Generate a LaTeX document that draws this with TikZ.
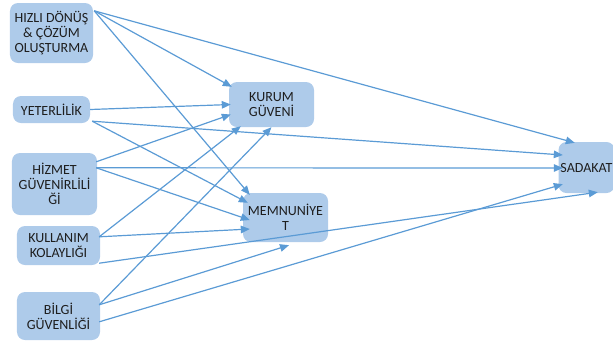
\documentclass[tikz,border=0pt]{standalone}
\usepackage{fontspec}
\setmainfont{Carlito}
\usetikzlibrary{arrows.meta}
\definecolor{boxfill}{RGB}{174,203,234}
\definecolor{linkblue}{RGB}{91,155,213}
\definecolor{boxtext}{RGB}{30,30,30}
\tikzset{
  box/.style={fill=boxfill, rounded corners=8bp, inner sep=0pt, align=center,
    text=boxtext, font=\fontsize{14bp}{15bp}\selectfont},
  link/.style={draw=linkblue, line width=1.2bp,
    -{Triangle[length=9bp,width=7.5bp]}}
}
\begin{document}
\begin{tikzpicture}[x=1bp, y=-1bp]
\useasboundingbox (0,0) rectangle (613,343);
\clip (0,0) rectangle (613,343);

% factor boxes on the left
\node[box, minimum width=83bp, minimum height=60bp] (hiz) at (51.5,33)
  {HIZLI DÖNÜŞ\\\& ÇÖZÜM\\OLUŞTURMA};
\node[box, minimum width=77bp, minimum height=27bp] (yet) at (51.5,109.5)
  {YETERLİLİK};
\node[box, minimum width=85bp, minimum height=62bp] (hzm) at (54.5,184)
  {HİZMET\\GÜVENİRLİLİ\\Ğİ};
\node[box, minimum width=83bp, minimum height=39bp] (kul) at (58.5,245.5)
  {KULLANIM\\KOLAYLIĞI};
\node[box, minimum width=83bp, minimum height=48bp] (bil) at (58.5,316)
  {BİLGİ\\GÜVENLİĞİ};

% mediating and outcome boxes
\node[box, minimum width=85bp, minimum height=45bp] (kur) at (271.5,104.5)
  {KURUM\\GÜVENİ};
\node[box, minimum width=85bp, minimum height=49bp] (mem) at (285.5,217.5)
  {MEMNUNİYE\\T};
\node[box, minimum width=56bp, minimum height=51bp] (sad) at (586.5,167.5)
  {SADAKAT};

% HIZLI DÖNÜŞ & ÇÖZÜM OLUŞTURMA
\draw[link] ([shift={(1,8)}]hiz.north east) -- ([shift={(3,5)}]kur.north west);
\draw[link] ([shift={(1,8)}]hiz.north east) -- ([shift={(7,2)}]mem.north west);
\draw[link] ([shift={(1,8)}]hiz.north east) -- ([shift={(16.5,1)}]sad.north west);

% YETERLİLİK
\draw[link] (yet.east) -- ([shift={(2,0)}]kur.west);
\draw[link] ([shift={(2,-2)}]yet.south east) -- ([shift={(5,10)}]mem.north west);
\draw[link] ([shift={(2,-2)}]yet.south east) -- ([shift={(4.5,-12.5)}]sad.west);

% HİZMET GÜVENİRLİLİĞİ
\draw[link] ([shift={(-1,9)}]hzm.north east) -- ([shift={(2,10)}]kur.west);
\draw[link] ([shift={(-1,15)}]hzm.north east) -- ([shift={(7,2.5)}]mem.west);
\draw[link] ([shift={(-1,15)}]hzm.north east) -- ([shift={(4.5,0.5)}]sad.west);

% KULLANIM KOLAYLIĞI
\draw[link] ([shift={(-1,11)}]kul.north east) -- ([shift={(12,-1)}]kur.south west);
\draw[link] ([shift={(-1,11)}]kul.north east) -- ([shift={(7,11.5)}]mem.west);
\draw[link] ([shift={(-1,-2)}]kul.south east) -- ([shift={(39.5,-1)}]sad.south west);

% BİLGİ GÜVENLİĞİ
\draw[link] ([shift={(-1,13)}]bil.north east) -- (kur.south);
\draw[link] ([shift={(-1,13)}]bil.north east) -- ([shift={(3.5,3)}]mem.south);
\draw[link] ([shift={(-1,30)}]bil.north east) -- ([shift={(4.5,-9)}]sad.south west);
\end{tikzpicture}
\end{document}
